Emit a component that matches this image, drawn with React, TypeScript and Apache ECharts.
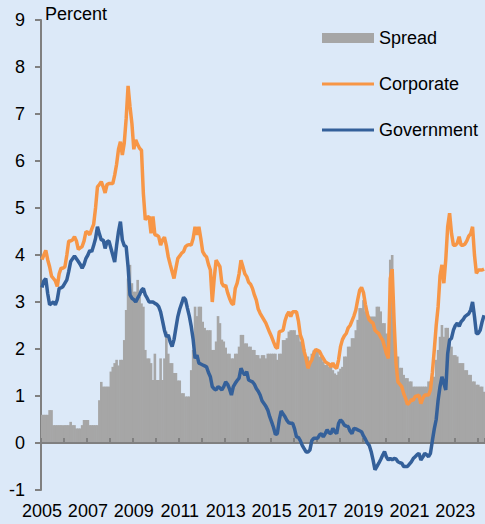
import React, { useEffect, useRef } from "react";
import * as echarts from "echarts";

const START_YEAR = 2005;
const Y_TICKS = { min: -1, max: 9, step: 1 };

// Monthly values, Jan 2005 .. Apr 2024 (percent)
const SPREAD = [
  0.6, 0.6, 0.6, 0.6, 0.7, 0.7, 0.38, 0.38, 0.38, 0.38, 0.38, 0.38,
  0.38, 0.38, 0.38, 0.45, 0.38, 0.38, 0.31, 0.31, 0.31, 0.38, 0.49, 0.49,
  0.49, 0.38, 0.38, 0.38, 0.38, 0.38, 0.91, 1.3, 1.2, 1.2, 1.2, 1.2,
  1.52, 1.62, 1.7, 1.77, 1.65, 1.77, 1.77, 2.19, 2.83, 3.5, 3.79, 3.4,
  3.22, 3.22, 3.47, 3.11, 2.97, 2.9, 1.98, 1.8, 1.8, 1.7, 1.34, 1.9,
  1.34, 1.34, 1.8, 1.34, 1.8, 2.37, 1.9, 1.7, 1.7, 1.49, 1.49, 1.33,
  1.33, 1.06, 1.06, 0.99, 0.99, 0.99, 1.55, 1.98, 2.9, 2.7, 2.9, 2.9,
  2.58, 2.45, 2.4, 2.4, 2.4, 1.98, 1.98, 2.16, 2.7, 2.55, 2.2, 2.16,
  2.03, 1.9, 1.9, 1.8, 1.8, 1.9, 1.9, 2.05, 2.3, 2.3, 2.12, 2.12,
  2.05, 2.05, 1.98, 1.98, 1.87, 1.87, 1.8, 1.87, 1.87, 1.8, 1.9, 1.9,
  1.9, 1.9, 1.9, 1.77, 1.9, 1.9, 2.19, 2.19, 2.23, 2.37, 2.4, 2.4,
  2.4, 2.3, 2.3, 2.16, 2.16, 2.0, 1.84, 1.84, 1.73, 1.9, 1.97, 1.97,
  1.97, 1.84, 1.84, 1.73, 1.66, 1.66, 1.62, 1.62, 1.55, 1.48, 1.45, 1.52,
  1.58, 1.62, 1.84, 1.84, 2.05, 2.05, 2.23, 2.23, 2.4, 2.62, 2.87, 2.87,
  3.04, 2.8, 2.8, 2.69, 2.69, 2.69, 2.69, 2.9, 2.9, 2.8, 2.55, 2.55,
  2.33, 1.98, 3.9, 4.0, 2.37, 1.84, 1.84, 1.6, 1.6, 1.45, 1.38, 1.38,
  1.31, 1.31, 1.2, 1.2, 1.2, 1.2, 1.2, 1.2, 1.2, 1.2, 1.31, 1.31,
  1.41, 1.41, 1.77, 1.98, 2.26, 2.51, 2.26, 2.45, 2.45, 2.12, 2.05, 1.87,
  1.87, 1.84, 1.7, 1.7, 1.7, 1.55, 1.55, 1.45, 1.45, 1.31, 1.31, 1.24,
  1.24, 1.2, 1.2, 1.09,
];

const CORPORATE = [
  3.9, 4.0, 4.1, 3.9, 3.75, 3.55, 3.5, 3.45, 3.33, 3.6, 3.72, 3.72,
  3.75, 4.0, 4.3, 4.3, 4.32, 4.39, 4.3, 4.12, 4.15, 4.18, 4.3, 4.5,
  4.48, 4.43, 4.55, 4.65, 5.0, 5.45, 5.5, 5.56, 5.45, 5.32, 5.5, 5.52,
  5.52, 5.52, 5.7, 5.93, 6.25, 6.41, 6.13, 6.38, 6.9, 7.6, 7.16, 6.8,
  6.25, 6.45, 6.35, 6.27, 6.23, 5.3, 4.75, 4.8, 4.82, 4.46, 4.82, 4.43,
  4.42, 4.39, 4.21, 4.32, 4.38, 4.2, 3.96, 3.8, 3.65, 3.5, 3.72, 3.93,
  3.98, 4.04, 4.07, 4.18, 4.21, 4.22, 4.21, 4.35, 4.6, 4.43, 4.6, 4.35,
  4.07, 4.0, 3.96, 3.8, 3.68, 3.0, 3.5, 3.89, 3.82, 3.75, 3.4, 3.33,
  3.36, 3.2, 3.08, 2.98, 2.94, 3.29, 3.4, 3.6, 3.89, 3.75, 3.6, 3.54,
  3.42, 3.38, 3.29, 3.15, 3.04, 2.85, 2.76, 2.69, 2.62, 2.55, 2.45, 2.35,
  2.26, 2.15, 2.05, 2.01, 2.37, 2.38, 2.4, 2.6, 2.72, 2.79, 2.69, 2.79,
  2.79, 2.79, 2.6, 2.3, 2.19, 1.95, 1.8, 1.59, 1.7, 1.77, 1.9, 1.99,
  1.97, 1.95, 1.87, 1.8, 1.73, 1.7, 1.68, 1.62, 1.7, 1.62, 1.59, 1.77,
  2.05, 2.2, 2.28, 2.33, 2.45, 2.5, 2.6, 2.7, 2.83, 3.05, 3.25, 3.31,
  3.2, 2.95, 2.75, 2.62, 2.58, 2.55, 2.4, 2.36, 2.33, 2.25, 2.19, 2.05,
  1.9, 1.8, 3.5, 3.7, 2.6, 1.7, 1.3, 1.25, 1.2, 1.05, 0.95, 0.82,
  0.86, 0.92, 0.91, 0.99, 1.0, 1.02, 0.84, 0.95, 1.02, 1.02, 1.02, 1.13,
  1.5, 1.98, 2.5, 2.9, 3.55, 3.79, 3.4, 3.9, 4.6, 4.89, 4.46, 4.21,
  4.21, 4.25, 4.39, 4.21, 4.21, 4.23, 4.3, 4.4, 4.45, 4.6, 4.0, 3.61,
  3.68, 3.68, 3.68, 3.7,
];

const GOVERNMENT = [
  3.31, 3.45, 3.5, 3.18, 2.94, 2.97, 3.0, 2.94, 3.05, 3.29, 3.3, 3.33,
  3.4, 3.47, 3.65, 3.86, 3.92, 3.98, 3.92, 3.86, 3.8, 3.72, 3.8, 3.93,
  4.0, 4.1, 4.07, 4.2, 4.35, 4.6, 4.45, 4.32, 4.32, 4.14, 4.28, 4.3,
  4.15, 4.0, 3.85, 4.2, 4.5, 4.71, 4.32, 4.2, 4.18, 3.75, 3.15, 3.08,
  3.05, 3.0, 3.08, 3.15, 3.25, 3.29, 3.15, 3.08, 3.0, 3.0, 3.0, 2.97,
  2.95, 2.9, 2.79, 2.6, 2.4, 2.26, 2.3, 2.15, 2.05, 2.2, 2.45, 2.69,
  2.85, 2.97, 3.1, 3.05, 2.87, 2.7, 2.48, 2.2, 1.8, 1.87, 1.7, 1.68,
  1.66, 1.64, 1.62, 1.5, 1.41, 1.2, 1.15, 1.13, 1.2, 1.17, 1.13, 1.2,
  1.3, 1.25, 1.15, 1.02, 1.2, 1.27, 1.33, 1.38, 1.59, 1.5, 1.45, 1.52,
  1.34, 1.32, 1.3, 1.25, 1.16, 1.1, 1.02, 0.9, 0.84, 0.78, 0.7, 0.56,
  0.45, 0.33, 0.18, 0.2, 0.49, 0.68, 0.62, 0.56, 0.48, 0.43, 0.42, 0.42,
  0.3, 0.13, 0.12, 0.05, -0.05, -0.12, -0.19, -0.19, -0.15, 0.05, 0.1, 0.1,
  0.1, 0.17, 0.2, 0.13, 0.2, 0.28, 0.22, 0.2, 0.31, 0.24, 0.2, 0.42,
  0.49, 0.45, 0.38, 0.36, 0.35, 0.25, 0.2, 0.31, 0.3, 0.28, 0.26, 0.24,
  0.15, 0.08, 0.0, -0.05, -0.18, -0.36, -0.57, -0.5, -0.43, -0.35, -0.26, -0.18,
  -0.3, -0.36, -0.33, -0.36, -0.33, -0.34, -0.4, -0.42, -0.43, -0.5, -0.5, -0.5,
  -0.45, -0.4, -0.33, -0.29, -0.25, -0.22, -0.36, -0.3, -0.22, -0.25, -0.29, -0.22,
  0.05, 0.3, 0.5, 0.91, 1.2, 1.41, 1.27, 1.13, 1.9, 2.19, 2.23, 2.4,
  2.5, 2.55, 2.48, 2.58, 2.62, 2.69, 2.72, 2.75, 2.83, 3.0, 2.69, 2.33,
  2.33, 2.4, 2.58, 2.72,
];

const MONTHS: string[] = SPREAD.map((_, i) => {
  const y = START_YEAR + Math.floor(i / 12);
  const m = (i % 12) + 1;
  return `${y}-${m < 10 ? "0" + m : m}`;
});

const BG = "#dce9f8";
const FONT = '"Liberation Sans", Arial, sans-serif';
const AXIS_GRAY = "#808080";
const ORANGE = "#f79646";
const BLUE = "#34609a";
const GRAY = "#a6a6a6";

export default function App() {
  const ref = useRef<HTMLDivElement>(null);

  useEffect(() => {
    document.body.style.margin = "0";
    document.body.style.background = BG;
    const chart = echarts.init(ref.current!, undefined, { renderer: "svg" });
    const legendBase = {
      orient: "vertical",
      left: 322,
      padding: 0,
      itemWidth: 52,
      selectedMode: false,
      textStyle: { fontSize: 18, color: "#000", fontFamily: FONT },
    };
    chart.setOption({
      animation: false,
      backgroundColor: BG,
      textStyle: { fontFamily: FONT },
      grid: { left: 41, right: 0, top: 20, bottom: 34, containLabel: false },
      legend: [
        { ...legendBase, top: 29, itemHeight: 10, data: [{ name: "Spread", icon: "rect" }] },
        { ...legendBase, top: 75, itemHeight: 3, data: [{ name: "Corporate", icon: "rect" }] },
        { ...legendBase, top: 121, itemHeight: 3, data: [{ name: "Government", icon: "rect" }] },
      ],
      graphic: [
        {
          type: "text",
          left: 45,
          top: 5,
          style: { text: "Percent", font: `18px ${FONT}`, fill: "#000" },
        },
      ],
      xAxis: [
        {
          type: "category",
          data: MONTHS,
          boundaryGap: true,
          axisLine: { show: false, onZero: false },
          axisTick: { show: false },
          splitLine: { show: false },
          axisLabel: {
            interval: (i: number) => i % 24 === 0,
            formatter: (v: string) => v.slice(0, 4),
            fontSize: 18,
            color: "#000",
            margin: 12,
            fontFamily: FONT,
          },
        },
        {
          type: "category",
          data: MONTHS,
          boundaryGap: true,
          z: 3,
          axisLine: { show: true, onZero: true, lineStyle: { color: AXIS_GRAY, width: 2 } },
          axisTick: {
            show: true,
            interval: (i: number) => i % 12 === 0,
            length: 5,
            lineStyle: { color: AXIS_GRAY, width: 2 },
          },
          axisLabel: { show: false },
          splitLine: { show: false },
        },
      ],
      yAxis: {
        type: "value",
        min: Y_TICKS.min,
        max: Y_TICKS.max,
        interval: Y_TICKS.step,
        axisLine: { show: true, onZero: false, lineStyle: { color: AXIS_GRAY, width: 2 } },
        axisTick: { show: true, length: 6, lineStyle: { color: AXIS_GRAY, width: 2 } },
        splitLine: { show: false },
        axisLabel: { fontSize: 18, color: "#000", margin: 16, fontFamily: FONT },
      },
      series: [
        {
          name: "Spread",
          type: "bar",
          xAxisIndex: 0,
          data: SPREAD,
          barWidth: 2.6,
          itemStyle: { color: GRAY },
          z: 2,
        },
        {
          name: "Corporate",
          type: "line",
          xAxisIndex: 0,
          data: CORPORATE,
          symbol: "none",
          lineStyle: { color: ORANGE, width: 3.5 },
          itemStyle: { color: ORANGE },
          z: 4,
        },
        {
          name: "Government",
          type: "line",
          xAxisIndex: 0,
          data: GOVERNMENT,
          symbol: "none",
          lineStyle: { color: BLUE, width: 3.5 },
          itemStyle: { color: BLUE },
          z: 5,
        },
      ],
    });
    return () => chart.dispose();
  }, []);

  return <div ref={ref} style={{ width: 485, height: 524 }} />;
}
